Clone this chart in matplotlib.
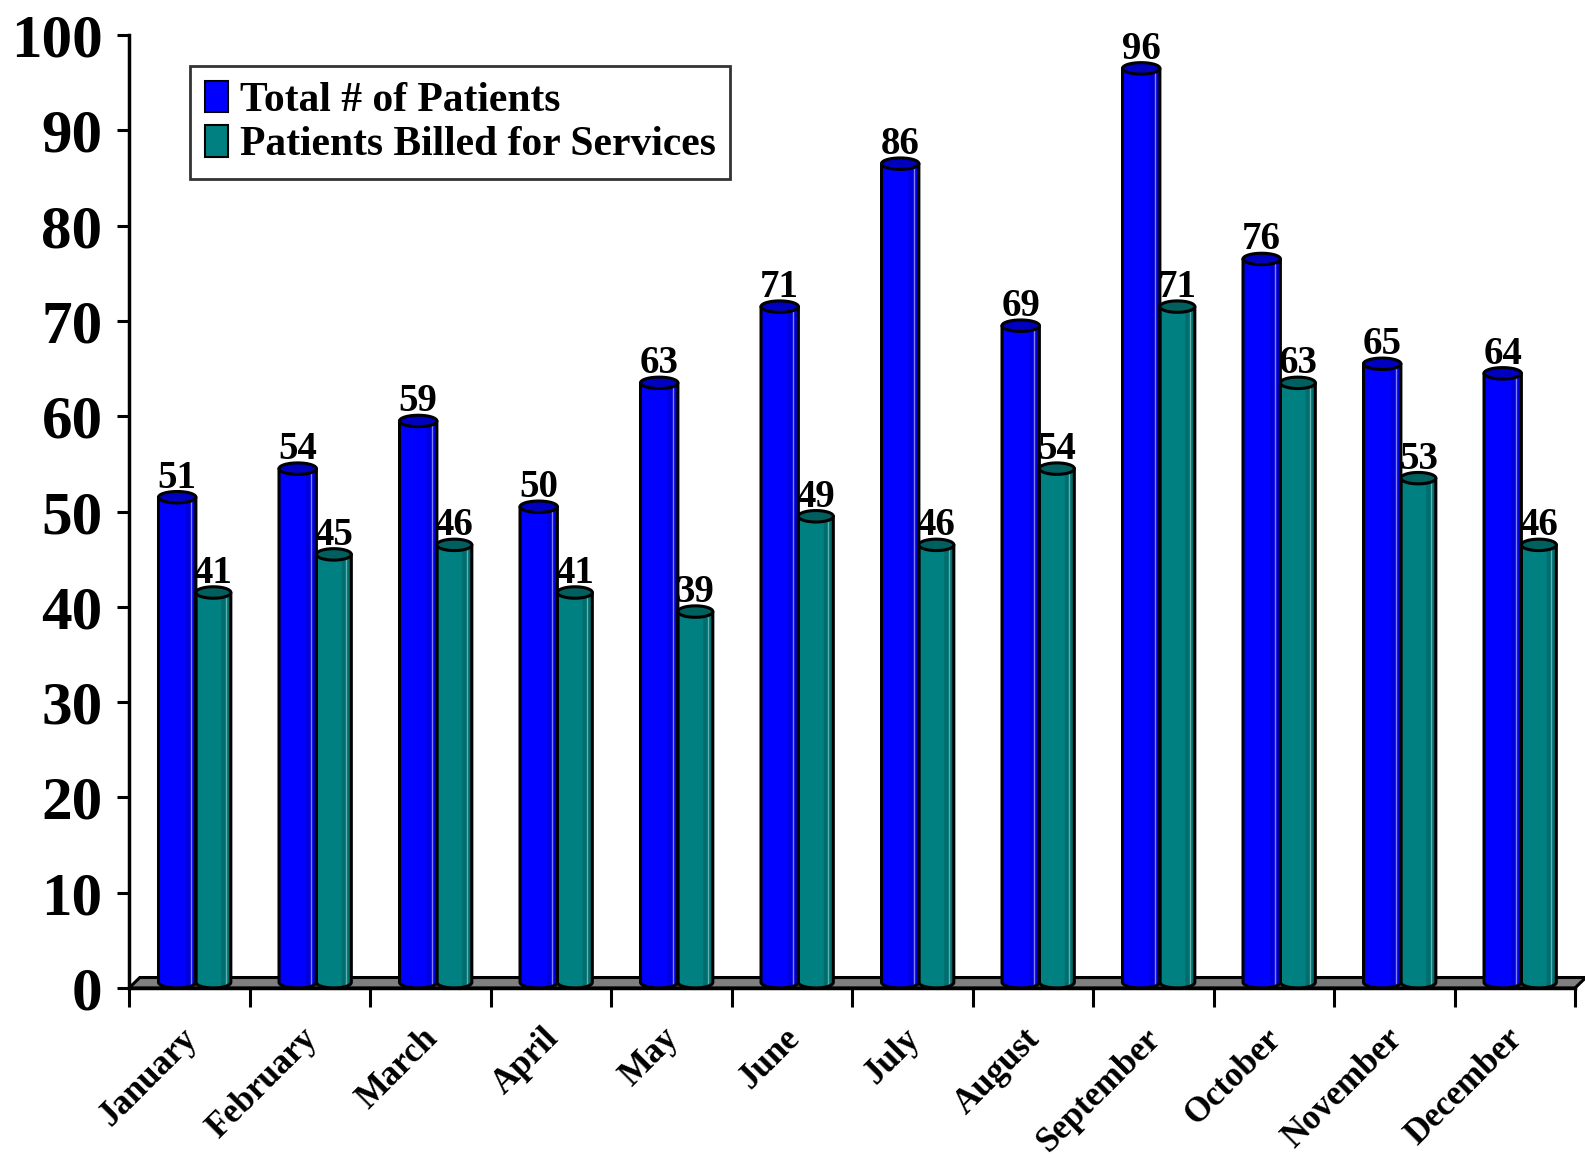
import numpy as np
import matplotlib
matplotlib.use("Agg")
import matplotlib.pyplot as plt
from matplotlib.patches import Polygon, Patch

months = ["January", "February", "March", "April", "May", "June", "July",
          "August", "September", "October", "November", "December"]
total_patients = [51, 54, 59, 50, 63, 71, 86, 69, 96, 76, 65, 64]
billed_patients = [41, 45, 46, 41, 39, 49, 46, 54, 71, 63, 53, 46]
series_names = ["Total # of Patients", "Patients Billed for Services"]
yticks = list(range(0, 101, 10))

FONT = "Liberation Serif"
W, H, DPI = 1585, 1160, 100
fig = plt.figure(figsize=(W / DPI, H / DPI), dpi=DPI)
ax = fig.add_axes([129 / W, 1 - 988 / H, 1446 / W, (988 - 35) / H])
ax.set_xlim(-0.5, 11.5)
ax.set_ylim(0, 100)

styles = [
    dict(body="#0000FF", dark="#0000DC", cap="#0000C0", hl="#8080FF"),
    dict(body="#008080", dark="#006E6E", cap="#006060", hl="#60B0B0"),
]
offsets = [(-0.255, 0.055), (0.055, 0.345)]
cap_h = 1.2


def ellipse_pts(xc, yc, a, b, t0, t1, n=40):
    t = np.linspace(t0, t1, n)
    return np.column_stack([xc + a * np.cos(t), yc + b * np.sin(t)])


# floor
depth_dx, depth_dy = 0.09, 1.1
floor = Polygon([(-0.5, 0), (11.5, 0), (11.5 + depth_dx, depth_dy), (-0.5 + depth_dx, depth_dy)],
                closed=True, facecolor="#808080", edgecolor="black", lw=2.2,
                clip_on=False, zorder=2)
ax.add_patch(floor)

for s, vals in enumerate([total_patients, billed_patients]):
    st = styles[s]
    for i, v in enumerate(vals):
        x0, x1 = i + offsets[s][0], i + offsets[s][1]
        xc, a, b = (x0 + x1) / 2, (x1 - x0) / 2, cap_h / 2
        top = v + 0.5
        bottom = ellipse_pts(xc, b, a, b, np.pi, 2 * np.pi)
        body = np.vstack([[(x0, top)], bottom, [(x1, top)]])
        ax.add_patch(Polygon(body, closed=True, facecolor=st["body"], edgecolor="none",
                             clip_on=False, zorder=3))
        xs = xc + 0.45 * a
        strip_bot = ellipse_pts(xc, b, a, b, 2 * np.pi - np.arccos(0.45), 2 * np.pi, 15)
        strip = np.vstack([[(xs, top)], strip_bot, [(x1, top)]])
        ax.add_patch(Polygon(strip, closed=True, facecolor=st["dark"], edgecolor="none",
                             clip_on=False, zorder=3.1))
        ax.plot([xc + 0.72 * a, xc + 0.72 * a], [b * 0.4, top], color=st["hl"], lw=1,
                zorder=3.2, clip_on=False)
        ax.add_patch(Polygon(body, closed=True, fill=False, edgecolor="black", lw=2.2,
                             clip_on=False, zorder=3.3, joinstyle="round"))
        cap = ellipse_pts(xc, top, a, b, 0, 2 * np.pi, 60)
        ax.add_patch(Polygon(cap, closed=True, facecolor=st["cap"], edgecolor="black", lw=2.2,
                             clip_on=False, zorder=3.4))
        ax.text(xc, v + 1.5, str(v), ha="center", va="baseline", fontsize=28,
                fontfamily=FONT, fontweight="bold", zorder=5)

for side in ["top", "right"]:
    ax.spines[side].set_visible(False)
ax.spines["left"].set_linewidth(2.5)
ax.spines["bottom"].set_linewidth(2.5)
ax.spines["left"].set_zorder(4)
ax.spines["bottom"].set_zorder(4)

ax.set_yticks(yticks)
ax.set_yticklabels([str(t) for t in yticks], fontsize=44, fontfamily=FONT, fontweight="bold")
ax.tick_params(axis="y", direction="out", length=9, width=2.2, pad=10)

ax.set_xticks(np.arange(-0.5, 12, 1.0))
ax.set_xticklabels([])
ax.tick_params(axis="x", which="major", direction="out", length=14, width=2.2)

for i, m in enumerate(months):
    ax.annotate(m, xy=(i, 0), xycoords=("data", "axes fraction"),
                xytext=(2, -33), textcoords="offset points",
                rotation=45, rotation_mode="anchor", ha="right", va="center",
                fontsize=25, fontfamily=FONT, fontweight="bold", annotation_clip=False)

handles = [Patch(facecolor=styles[k]["body"], edgecolor="black", lw=1.5) for k in range(2)]
leg = fig.legend(handles, series_names, loc="upper left",
                 bbox_to_anchor=(190 / W, 1 - 66 / H), bbox_transform=fig.transFigure,
                 prop=dict(family=FONT, weight="bold", size=30),
                 frameon=True, fancybox=False, handlelength=0.55, handleheight=0.8,
                 handletextpad=0.3, labelspacing=0.12, borderpad=0.35, borderaxespad=0)
leg.get_frame().set_edgecolor("black")
leg.get_frame().set_linewidth(2)

fig.savefig("out.png", dpi=DPI)
